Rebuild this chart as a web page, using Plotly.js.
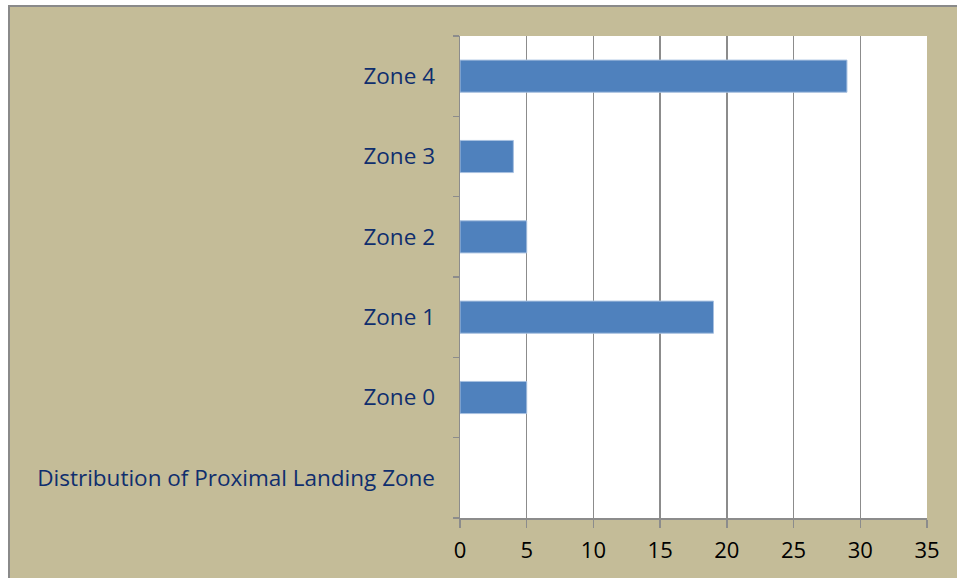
<!DOCTYPE html>
<html>
<head>
<meta charset="utf-8">
<script src="https://cdn.plot.ly/plotly-3.0.1.min.js"></script>
<style>
html, body { margin: 0; padding: 0; background: #ffffff; width: 957px; height: 578px; overflow: hidden; }
#frame { position: absolute; left: 8px; top: 5px; width: 949px; height: 573px;
  border-top: 2px solid #8a8a8a; border-left: 2px solid #8a8a8a; background: #C4BC98; }
#chart { width: 949px; height: 573px; }
</style>
</head>
<body>
<div id="frame"><div id="chart"></div></div>
<script>
var categories = ["Distribution of Proximal Landing Zone", "Zone 0", "Zone 1", "Zone 2", "Zone 3", "Zone 4"];
var values = [null, 5, 19, 5, 4, 29];
var xTicks = [0, 5, 10, 15, 20, 25, 30, 35];

var trace = {
  type: 'bar',
  orientation: 'h',
  y: categories,
  x: values,
  marker: { color: '#4F81BD', line: { color: '#A7C0E0', width: 1 } },
  hoverinfo: 'x+y'
};

var layout = {
  width: 949, height: 573,
  paper_bgcolor: 'rgba(0,0,0,0)',
  plot_bgcolor: '#ffffff',
  margin: { l: 450, r: 32, t: 29, b: 62 },
  bargap: 0.6,
  showlegend: false,
  font: { family: 'Open Sans, Liberation Sans, sans-serif', size: 22 },
  xaxis: {
    range: [0, 35],
    tickvals: xTicks,
    ticktext: xTicks.map(String),
    showgrid: true, gridcolor: '#8c8c8c', gridwidth: 1.5,
    showline: true, linecolor: '#8c8c8c', linewidth: 1.5,
    ticks: 'outside', ticklen: 8, tickcolor: '#8c8c8c', tickwidth: 1.5,
    tickfont: { color: '#000000', size: 22 },
    ticklabelstandoff: 4,
    zeroline: false, fixedrange: true
  },
  yaxis: {
    type: 'category',
    categoryorder: 'array', categoryarray: categories,
    showgrid: false,
    showline: true, linecolor: '#8c8c8c', linewidth: 1.5,
    ticks: 'outside', tickson: 'boundaries', ticklen: 6, tickcolor: '#8c8c8c', tickwidth: 1.5,
    tickfont: { color: '#0F2E6E', size: 22.5 },
    ticklabelstandoff: 19,
    fixedrange: true
  }
};

Plotly.newPlot('chart', [trace], layout, { displayModeBar: false, staticPlot: true });
</script>
</body>
</html>
